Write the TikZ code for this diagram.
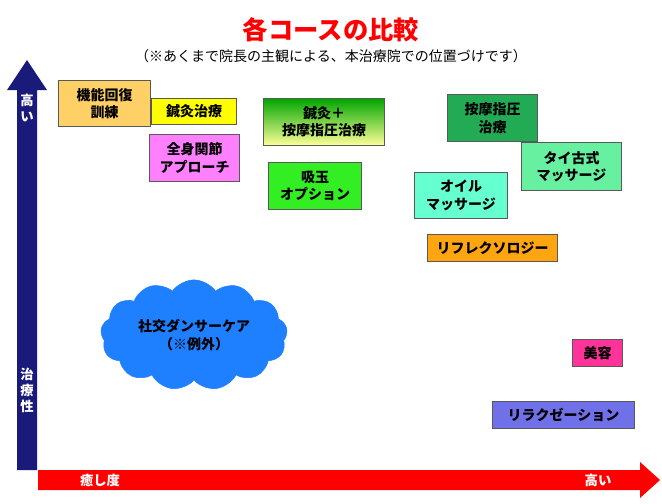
\documentclass[tikz,border=0pt]{standalone}
\usepackage{fontspec}
\setmainfont{Noto Sans CJK JP}
\usetikzlibrary{shapes.symbols,shadings}
\definecolor{navy}{HTML}{1A1A7A}
\definecolor{cA}{HTML}{FFD066}
\definecolor{cB}{HTML}{FFFF00}
\definecolor{cC}{HTML}{FF80FF}
\definecolor{cD}{HTML}{33EE22}
\definecolor{cE}{HTML}{22AA55}
\definecolor{cF}{HTML}{66F0A0}
\definecolor{cG}{HTML}{66FFD0}
\definecolor{cH}{HTML}{FFA510}
\definecolor{cI}{HTML}{FF3399}
\definecolor{cJ}{HTML}{7070E8}
\definecolor{cloudc}{HTML}{1E80FF}
\begin{document}
\begin{tikzpicture}[x=0.75pt,y=-0.75pt,
  box/.style={draw=gray!70!black,line width=0.8pt,font=\bfseries\fontsize{10.5}{13}\selectfont,align=center,inner sep=0pt,anchor=north west},
  lab/.style={font=\bfseries\fontsize{10}{11}\selectfont,white}]
\useasboundingbox (0,0) rectangle (662,504);
\node[font=\bfseries\fontsize{19}{20}\selectfont,text=red] (title) at (331,30) {各コースの比較};
\node[font=\fontsize{10.5}{12}\selectfont] (sub) at (331,56) {（※あくまで院長の主観による、本治療院での位置づけです）};
% vertical arrow
\fill[navy] (17,470) -- (17,90) -- (7,90) -- (27,60) -- (47,90) -- (37,90) -- (37,470) -- cycle;
\node[lab,align=center,font=\bfseries\fontsize{10}{12}\selectfont] (hi1) at (27,108) {高\\い};
\node[lab,align=center,font=\bfseries\fontsize{10}{12}\selectfont] (ch) at (27,390) {治\\療\\性};
% horizontal arrow
\fill[red] (38,470) -- (640,470) -- (640,462) -- (660,480) -- (640,498) -- (640,490) -- (38,490) -- cycle;
\node[lab] (iy) at (100,480) {癒し度};
\node[lab] (hi2) at (598,480) {高い};
% boxes
\node[box,fill=cA,text width=69pt,minimum height=34.5pt] (a) at (58,80) {機能回復\\訓練};
\node[box,fill=cB,text width=63.75pt,minimum height=19.5pt] (b) at (151,98) {鍼灸治療};
\node[box,fill=cC,text width=67.5pt,minimum height=35.25pt] (c) at (149,134) {全身関節\\アプローチ};
\node[box,top color=green!65!black,middle color=yellow,bottom color=yellow!40!white,text width=90.75pt,minimum height=35.25pt] (d) at (263,98) {鍼灸＋\\按摩指圧治療};
\node[box,fill=cD,text width=69.75pt,minimum height=35.25pt] (e) at (268,162) {吸玉\\オプション};
\node[box,fill=cE,text width=67.5pt,minimum height=35.25pt] (f) at (447,94) {按摩指圧\\治療};
\node[box,fill=cF,text width=75pt,minimum height=36pt] (g) at (521,142) {タイ古式\\マッサージ};
\node[box,fill=cG,text width=69.75pt,minimum height=34.5pt] (h) at (414,172) {オイル\\マッサージ};
\node[box,fill=cH,text width=97.5pt,minimum height=20.25pt] (i) at (427,234) {リフレクソロジー};
\node[box,fill=cI,text width=37.5pt,minimum height=20.25pt] (j) at (572,339) {美容};
\node[box,fill=cJ,text width=106.5pt,minimum height=20.25pt] (k) at (492,401) {リラクゼーション};
\node[cloud,cloud puffs=13,cloud puff arc=110,aspect=1.7,fill=cloudc,draw=cloudc,minimum width=140pt,minimum height=82pt,align=center,font=\bfseries\fontsize{10.5}{14}\selectfont,inner sep=0pt] (cl) at (194,335) {社交ダンサーケア\\（※例外）};
\end{tikzpicture}
\end{document}
